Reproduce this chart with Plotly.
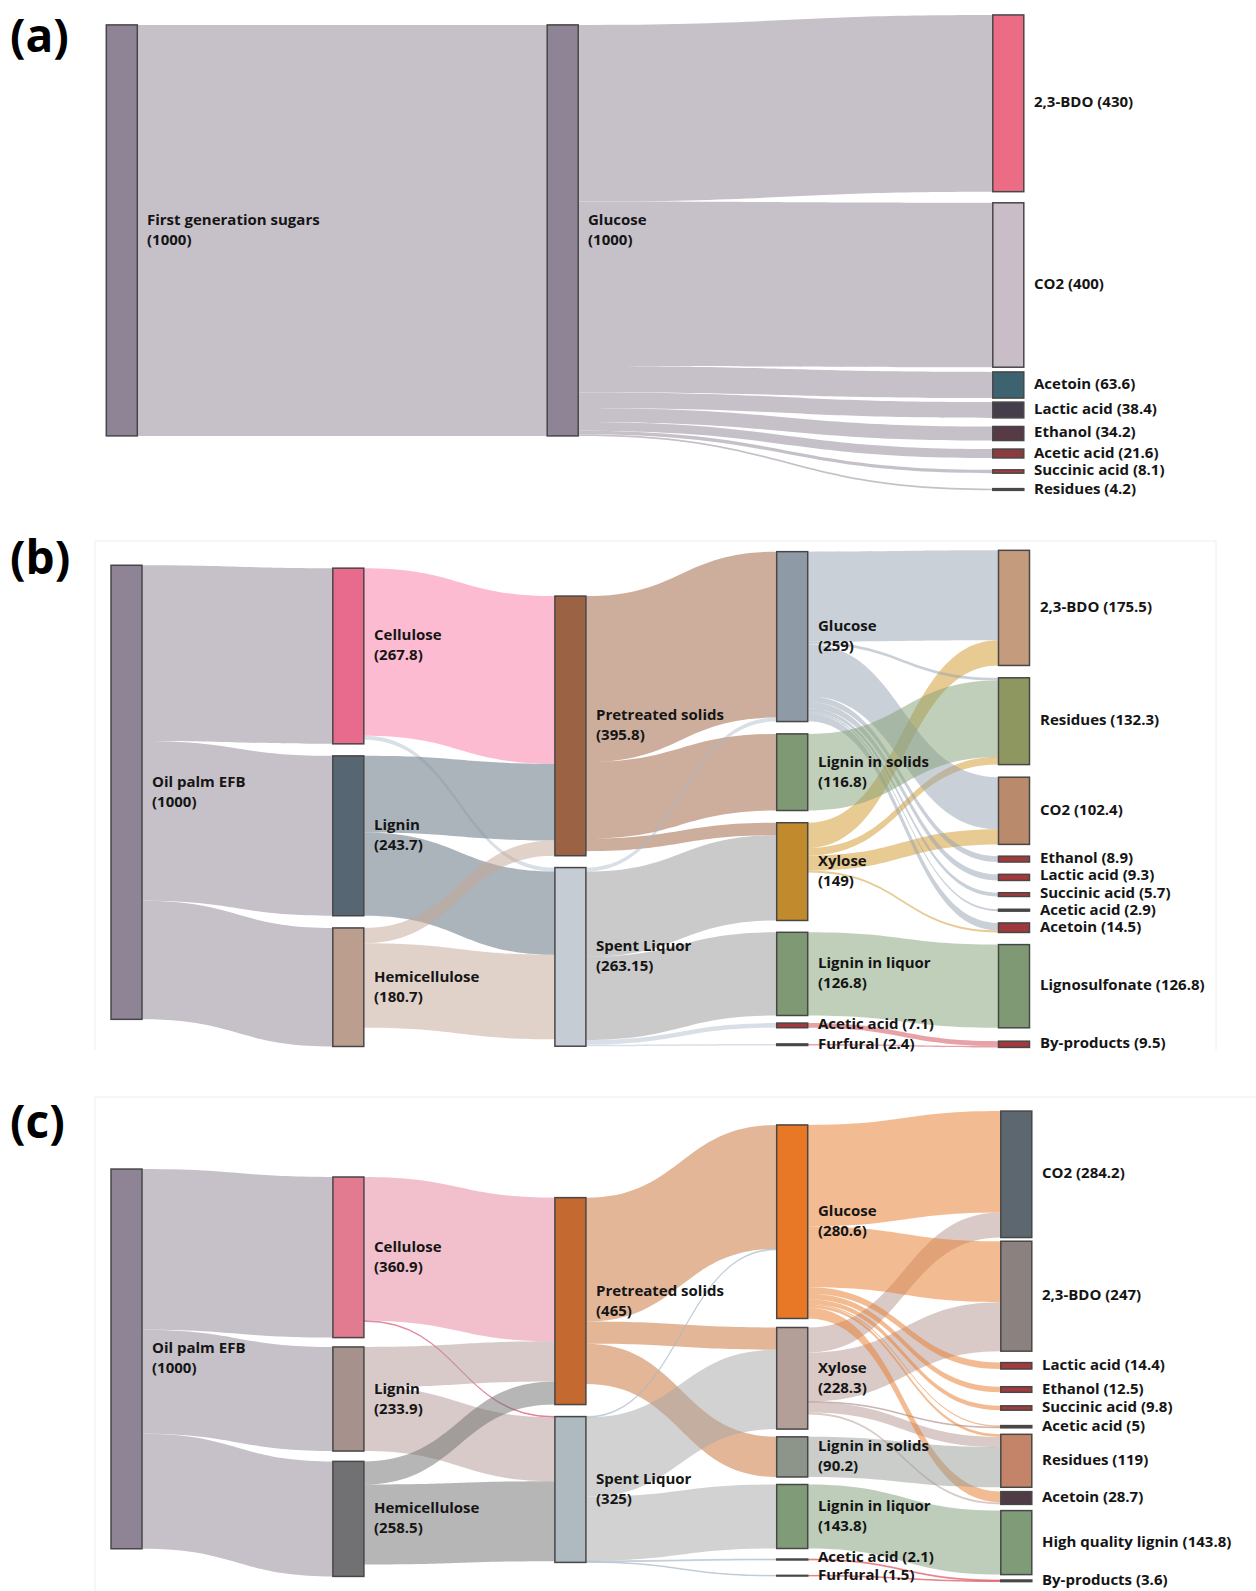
import plotly.graph_objects as go

FIG_W, FIG_H = 1256, 1591

# ---------------------------------------------------------------------------
# (a) First generation sugars -> glucose -> fermentation products
# ---------------------------------------------------------------------------
a_nodes = ["First generation sugars", "Glucose", "2,3-BDO", "CO2", "Acetoin",
           "Lactic acid", "Ethanol", "Acetic acid", "Succinic acid", "Residues"]
a_label_values = [1000, 1000, 430, 400, 63.6, 38.4, 34.2, 21.6, 8.1, 4.2]
a_source = [0, 1, 1, 1, 1, 1, 1, 1, 1]
a_target = [1, 2, 3, 4, 5, 6, 7, 8, 9]
a_flow = [1000, 430, 400, 63.6, 38.4, 34.2, 21.6, 8.1, 4.2]

# ---------------------------------------------------------------------------
# (b) Oil palm EFB, sulfite pretreatment route
# ---------------------------------------------------------------------------
b_nodes = ["Oil palm EFB", "Cellulose", "Lignin", "Hemicellulose",
           "Pretreated solids", "Spent Liquor", "Glucose", "Lignin in solids",
           "Xylose", "Lignin in liquor", "Acetic acid", "Furfural",
           "2,3-BDO", "Residues", "CO2", "Ethanol", "Lactic acid",
           "Succinic acid", "Acetic acid", "Acetoin", "Lignosulfonate",
           "By-products"]
b_label_values = [1000, 267.8, 243.7, 180.7, 395.8, 263.15, 259, 116.8, 149,
                  126.8, 7.1, 2.4, 175.5, 132.3, 102.4, 8.9, 9.3, 5.7, 2.9,
                  14.5, 126.8, 9.5]
b_source = [0, 0, 0,
            1, 1, 2, 2, 3, 3,
            4, 4, 4,
            5, 5, 5, 5, 5,
            8, 8, 8, 8,
            6, 6, 6, 6, 6, 6, 6, 6,
            7, 9, 10, 11]
b_target = [1, 2, 3,
            4, 5, 4, 5, 4, 5,
            6, 7, 8,
            6, 8, 9, 10, 11,
            12, 13, 14, 19,
            12, 13, 14, 15, 16, 17, 18, 19,
            13, 20, 21, 21]
b_flow = [267.8, 243.7, 180.7,
          255.6, 6.0, 116.9, 126.8, 23.3, 129.0,
          253.0, 116.8, 19.0,
          6.0, 130.0, 126.8, 7.1, 2.4,
          38.5, 11.5, 23.0, 3.0,
          137.0, 4.0, 79.4, 8.9, 9.3, 5.7, 2.9, 11.5,
          116.8, 126.8, 7.1, 2.4]

# ---------------------------------------------------------------------------
# (c) Oil palm EFB, alternative pretreatment route
# ---------------------------------------------------------------------------
c_nodes = ["Oil palm EFB", "Cellulose", "Lignin", "Hemicellulose",
           "Pretreated solids", "Spent Liquor", "Glucose", "Xylose",
           "Lignin in solids", "Lignin in liquor", "Acetic acid", "Furfural",
           "CO2", "2,3-BDO", "Lactic acid", "Ethanol", "Succinic acid",
           "Acetic acid", "Residues", "Acetoin", "High quality lignin",
           "By-products"]
c_label_values = [1000, 360.9, 233.9, 258.5, 465, 325, 280.6, 228.3, 90.2,
                  143.8, 2.1, 1.5, 284.2, 247, 14.4, 12.5, 9.8, 5, 119, 28.7,
                  143.8, 3.6]
c_source = [0, 0, 0,
            1, 1, 2, 2, 3, 3,
            4, 4, 4,
            5, 5, 5, 5, 5,
            7, 7, 7, 7, 7,
            6, 6, 6, 6, 6, 6, 6, 6,
            8, 9, 10, 11]
c_target = [1, 2, 3,
            4, 5, 4, 5, 4, 5,
            6, 7, 8,
            6, 7, 9, 10, 11,
            12, 13, 17, 18, 19,
            12, 13, 14, 15, 16, 17, 18, 19,
            18, 20, 21, 21]
c_flow = [360.9, 233.9, 258.5,
          322.8, 1.5, 90.2, 143.7, 52.0, 179.8,
          278.6, 50.0, 90.2,
          2.0, 178.3, 143.8, 2.1, 1.5,
          56.2, 110.0, 1.8, 22.8, 4.7,
          228.0, 137.0, 14.4, 12.5, 9.8, 3.2, 6.0, 24.0,
          90.2, 143.8, 2.1, 1.5]

# ---------------------------------------------------------------------------
# Styling
# ---------------------------------------------------------------------------
FEED = "#C6C1C9"
a_node_colors = ["#8E8496", "#8E8496", "#EB6C84", "#C9BDC7", "#3E6370",
                 "#463D4A", "#573A45", "#8B3A40", "#B2363B", "#5B4B52"]
a_link_colors = [FEED] * len(a_flow)

b_node_colors = ["#8E8496", "#E86A8C", "#566672", "#BC9E8F", "#9B6243",
                 "#C5CCD4", "#8E9BA7", "#7F9974", "#C18A2D", "#7F9974",
                 "#A6383C", "#4A4A4A", "#C49B7C", "#8E9760", "#B98A6C",
                 "#A6383C", "#A6383C", "#A6383C", "#563B40", "#9E3A3E",
                 "#7F9974", "#A6383C"]
B_CELL = "rgba(252,170,198,0.8)"
B_PALE = "rgba(170,185,200,0.45)"
B_LIG = "rgba(128,140,150,0.65)"
B_HEMI = "rgba(196,165,148,0.5)"
B_PRE = "rgba(164,108,75,0.55)"
B_SPENT = "rgba(150,150,150,0.5)"
B_XYL = "rgba(210,150,40,0.5)"
B_GLU = "rgba(150,162,176,0.5)"
B_GREEN = "rgba(130,160,115,0.5)"
B_RED = "rgba(205,70,80,0.5)"
b_link_colors = ([FEED] * 3 +
                 [B_CELL, B_PALE, B_LIG, B_LIG, B_HEMI, B_HEMI] +
                 [B_PRE] * 3 +
                 [B_PALE, B_SPENT, B_SPENT, B_PALE, B_PALE] +
                 [B_XYL] * 4 +
                 [B_GLU] * 8 +
                 [B_GREEN, B_GREEN, B_RED, B_RED])

c_node_colors = ["#8E8496", "#E27B8F", "#A6918D", "#717174", "#C4692F",
                 "#AEB9C0", "#E87726", "#B39E98", "#8D958B", "#7F9B78",
                 "#555555", "#555555", "#5C6770", "#8B8280", "#A33A3D",
                 "#A33A3D", "#A33A3D", "#5A3A40", "#C4846A", "#4F3B45",
                 "#7F9B78", "#555555"]
C_CELL = "rgba(230,130,155,0.5)"
C_CELL_THIN = "rgba(220,100,130,0.6)"
C_LIG = "rgba(175,150,145,0.5)"
C_HEMI = "rgba(110,110,110,0.5)"
C_PRE = "rgba(200,110,50,0.5)"
C_PALE = "rgba(170,185,200,0.5)"
C_SPENT = "rgba(165,165,165,0.5)"
C_XYL = "rgba(180,150,145,0.5)"
C_GLU = "rgba(232,125,45,0.52)"
C_SOLID = "rgba(150,155,150,0.5)"
C_GREEN = "rgba(125,155,115,0.5)"
C_RED = "rgba(220,80,90,0.5)"
c_link_colors = ([FEED] * 3 +
                 [C_CELL, C_CELL_THIN, C_LIG, C_LIG, C_HEMI, C_HEMI] +
                 [C_PRE] * 3 +
                 [C_PALE, C_SPENT, C_SPENT, C_PALE, C_PALE] +
                 [C_XYL] * 5 +
                 [C_GLU] * 8 +
                 [C_SOLID, C_GREEN, C_RED, C_RED])

THICK = 31
EDGE = "#474747"
FONT = dict(family="Open Sans", size=15, color="#151515", weight=700)

# Placement of each diagram on the page (pixels): drawing box, column
# centres, node centres and the pixel-per-unit scale of the flows.
# label_dy nudges a label vertically relative to its node centre.
layout_a = dict(box=(100, 1040, 8, 498), ky=0.411,
                col_x=[121.8, 562.7, 1008.3],
                cols=[0, 1, 2, 2, 2, 2, 2, 2, 2, 2],
                node_y=[230.4, 230.4, 103.3, 285, 385, 410, 433.5, 453.5,
                        471.5, 489.5],
                two_line=2, label_dy={})
layout_b = dict(box=(100, 1040, 540, 1052), ky=0.656,
                col_x=[126.5, 348.3, 570.4, 792.2, 1014.0],
                cols=[0, 1, 1, 1, 2, 2, 3, 3, 3, 3, 3, 3,
                      4, 4, 4, 4, 4, 4, 4, 4, 4, 4],
                node_y=[792.3, 656, 835.8, 987.2, 725.9, 956.9, 636.6, 772.2,
                        871.6, 973.9, 1025.4, 1044.7, 607.9, 721.2, 810.8,
                        859.1, 877.4, 894.6, 910.2, 927.7, 986.2, 1044.3],
                two_line=10,
                label_dy={1: -12.5, 15: -2.6, 16: -3.4, 17: -3.1, 18: -1.2,
                          19: -1.2})
layout_c = dict(box=(100, 1040, 1098, 1590), ky=0.445,
                col_x=[126.5, 348.4, 570.4, 792.2, 1016.3],
                cols=[0, 1, 1, 1, 2, 2, 3, 3, 3, 3, 3, 3,
                      4, 4, 4, 4, 4, 4, 4, 4, 4, 4],
                node_y=[1358.9, 1257.3, 1399, 1518.9, 1301.1, 1489.5, 1221.7,
                        1378.3, 1456.9, 1516.5, 1559.5, 1575.7, 1174.3,
                        1296.2, 1365.8, 1389.5, 1408, 1426.7, 1460.8, 1498,
                        1542.6, 1580.8],
                two_line=10, label_dy={10: -3.5, 11: -1.5})


def node_totals(n, src, tgt, val):
    inflow, outflow = [0.0] * n, [0.0] * n
    for s, t, v in zip(src, tgt, val):
        outflow[s] += v
        inflow[t] += v
    return [max(i, o) for i, o in zip(inflow, outflow)]


def padding_for_scale(totals, cols, height, ky):
    groups = {}
    for v, c in zip(totals, cols):
        groups.setdefault(c, []).append(v)
    return min((height - ky * sum(g)) / (len(g) - 1)
               for g in groups.values() if len(g) > 1)


def px_x(x):
    return x / FIG_W


def px_y(y):
    return 1 - y / FIG_H


fig = go.Figure()
annotations = []


def add_diagram(names, label_values, src, tgt, flow, node_colors,
                link_colors, spec):
    x0, x1, y0, y1 = spec["box"]
    w, h = x1 - x0, y1 - y0
    n = len(names)
    totals = node_totals(n, src, tgt, flow)
    pad = padding_for_scale(totals, spec["cols"], h, spec["ky"])
    xs = [(spec["col_x"][c] - x0) / w for c in spec["cols"]]
    ys = [(cy - y0) / h for cy in spec["node_y"]]
    fig.add_trace(go.Sankey(
        domain=dict(x=[px_x(x0), px_x(x1)], y=[px_y(y1), px_y(y0)]),
        arrangement="fixed",
        node=dict(label=[""] * n, pad=pad, thickness=THICK,
                  color=node_colors, line=dict(color=EDGE, width=1.5),
                  x=xs, y=ys, hoverinfo="skip"),
        link=dict(source=src, target=tgt, value=flow, color=link_colors,
                  hoverinfo="skip"),
    ))
    for i, (name, v) in enumerate(zip(names, label_values)):
        cx = spec["col_x"][spec["cols"][i]]
        cy = spec["node_y"][i]
        lx = cx + THICK / 2 + 8
        value_txt = f"({v:g})"
        if i < spec["two_line"]:
            ly = cy + spec["label_dy"].get(i, -1.5)
            txt = f"{name}<br>{value_txt}"
        else:
            ly = cy + spec["label_dy"].get(i, -2)
            txt = f"{name} {value_txt}"
        annotations.append(dict(
            x=px_x(lx), y=px_y(ly), xref="paper", yref="paper",
            text=txt, showarrow=False, xanchor="left", yanchor="middle",
            align="left", font=FONT))


add_diagram(a_nodes, a_label_values, a_source, a_target, a_flow,
            a_node_colors, a_link_colors, layout_a)
add_diagram(b_nodes, b_label_values, b_source, b_target, b_flow,
            b_node_colors, b_link_colors, layout_b)
add_diagram(c_nodes, c_label_values, c_source, c_target, c_flow,
            c_node_colors, c_link_colors, layout_c)

# Panel letters
for letter, y in [("(a)", 34), ("(b)", 556), ("(c)", 1120)]:
    annotations.append(dict(
        x=px_x(8), y=px_y(y), xref="paper", yref="paper", text=letter,
        showarrow=False, xanchor="left", yanchor="middle",
        font=dict(family="Open Sans", size=46, color="#000000", weight=700)))

# Faint frames behind panels (b) and (c)
FRAME = "#EEEEEE"
shapes = [
    dict(type="line", xref="paper", yref="paper", x0=px_x(95), x1=px_x(95),
         y0=px_y(541), y1=px_y(1050), line=dict(color=FRAME, width=1)),
    dict(type="line", xref="paper", yref="paper", x0=px_x(95), x1=px_x(1216),
         y0=px_y(541), y1=px_y(541), line=dict(color=FRAME, width=1)),
    dict(type="line", xref="paper", yref="paper", x0=px_x(1216),
         x1=px_x(1216), y0=px_y(541), y1=px_y(1050),
         line=dict(color=FRAME, width=1)),
    dict(type="line", xref="paper", yref="paper", x0=px_x(95), x1=px_x(95),
         y0=px_y(1097), y1=px_y(1591), line=dict(color=FRAME, width=1)),
    dict(type="line", xref="paper", yref="paper", x0=px_x(95), x1=px_x(1256),
         y0=px_y(1097), y1=px_y(1097), line=dict(color=FRAME, width=1)),
]

fig.update_layout(
    width=FIG_W, height=FIG_H, autosize=False,
    margin=dict(l=0, r=0, t=0, b=0),
    paper_bgcolor="white", plot_bgcolor="white",
    annotations=annotations, shapes=shapes,
    showlegend=False,
)

fig.write_html("out.html")
